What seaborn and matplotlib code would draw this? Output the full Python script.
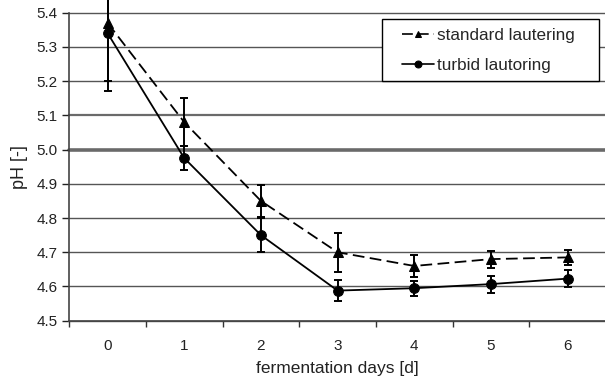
import matplotlib
matplotlib.use("Agg")
import matplotlib.pyplot as plt
from matplotlib.patches import Rectangle
import numpy as np
import pandas as pd
import seaborn as sns

# data
dias = [0, 1, 2, 3, 4, 5, 6]
ph_standard = [5.37, 5.08, 4.85, 4.70, 4.66, 4.68, 4.685]
err_standard = [0.17, 0.07, 0.048, 0.057, 0.032, 0.025, 0.022]
ph_turbid = [5.34, 4.975, 4.75, 4.588, 4.595, 4.607, 4.623]
err_turbid = [0.17, 0.035, 0.05, 0.03, 0.022, 0.025, 0.024]
series = ["standard lautering", "turbid lautoring"]
yticks = [4.5, 4.6, 4.7, 4.8, 4.9, 5.0, 5.1, 5.2, 5.3, 5.4]

sns.set_theme(style="white")
plt.rcParams["font.family"] = ["Liberation Sans", "DejaVu Sans"]

df = pd.DataFrame({
    "day": dias * 2,
    "pH": ph_standard + ph_turbid,
    "series": [series[0]] * len(dias) + [series[1]] * len(dias),
})

fig = plt.figure(figsize=(6.05, 3.8), dpi=100)
ax = fig.add_axes([0.1145, 0.156, 0.887, 0.8106])

# grid (scanned look: some lines heavier)
ax.set_ylim(4.5, 5.4)
ax.set_yticks(yticks)
grid_w = {5.0: 2.6, 5.1: 1.6}
for v in yticks:
    ax.axhline(v, color="#555555" if v not in grid_w else "#6a6a6a",
               lw=grid_w.get(v, 1.0), zorder=0)

# error bars
ax.errorbar(dias, ph_standard, yerr=err_standard, fmt="none", ecolor="black",
            elinewidth=1.4, capsize=3, capthick=1.4, clip_on=False, zorder=3)
ax.errorbar(dias, ph_turbid, yerr=err_turbid, fmt="none", ecolor="black",
            elinewidth=1.4, capsize=3, capthick=1.4, clip_on=False, zorder=3)

sns.lineplot(data=df, x="day", y="pH", style="series", style_order=series,
             markers={series[0]: "^", series[1]: "o"},
             dashes={series[0]: (6.5, 3), series[1]: ""},
             color="black", lw=1.3, markersize=7, markeredgecolor="black",
             ax=ax, legend=True, zorder=4)
for ln in ax.get_lines():
    ln.set_clip_on(False)
handles, labels = ax.get_legend_handles_labels()
ax.get_legend().remove()

ax.set_xlim(-0.5, 6.5)
ax.set_xticks(dias)
ax.set_xticks(np.arange(-0.5, 7.0, 1.0), minor=True)
ax.tick_params(axis="x", which="major", length=0, pad=13, labelsize=11,
               colors="#222222")
ax.tick_params(axis="x", which="minor", length=4, width=1, direction="out",
               color="#333333", bottom=True)
ax.tick_params(axis="y", which="major", length=5, width=1, direction="out",
               left=True, labelsize=11, colors="#222222")
ax.set_yticklabels([f"{v:.1f}" for v in yticks])

for s in ["top", "right"]:
    ax.spines[s].set_visible(False)
for s in ["left", "bottom"]:
    ax.spines[s].set_color("#444444")
    ax.spines[s].set_linewidth(1.2)

ax.set_xlabel("fermentation days [d]", fontsize=12.5, color="#222222", labelpad=6)
ax.set_ylabel("pH [-]", fontsize=13, color="#222222", labelpad=6)

# legend: frame drawn as its own box, entries placed inside
fig.patches.append(Rectangle((382 / 605, 1 - 80.5 / 380), 217 / 605, 61.5 / 380,
                             transform=fig.transFigure, facecolor="white",
                             edgecolor="black", lw=1.0, zorder=5))
leg = fig.legend(handles, labels, loc="center left",
                 bbox_to_anchor=(402 / 605, 1 - 50.5 / 380), borderaxespad=0,
                 fontsize=12.3, frameon=False, handlelength=1.85,
                 handletextpad=0.2, borderpad=0, labelspacing=0.85)
leg.set_zorder(6)
for h in leg.legend_handles:
    h.set_markersize(5)
    h.set_linewidth(1.2)

fig.savefig("out.png", dpi=100)
plt.close(fig)
